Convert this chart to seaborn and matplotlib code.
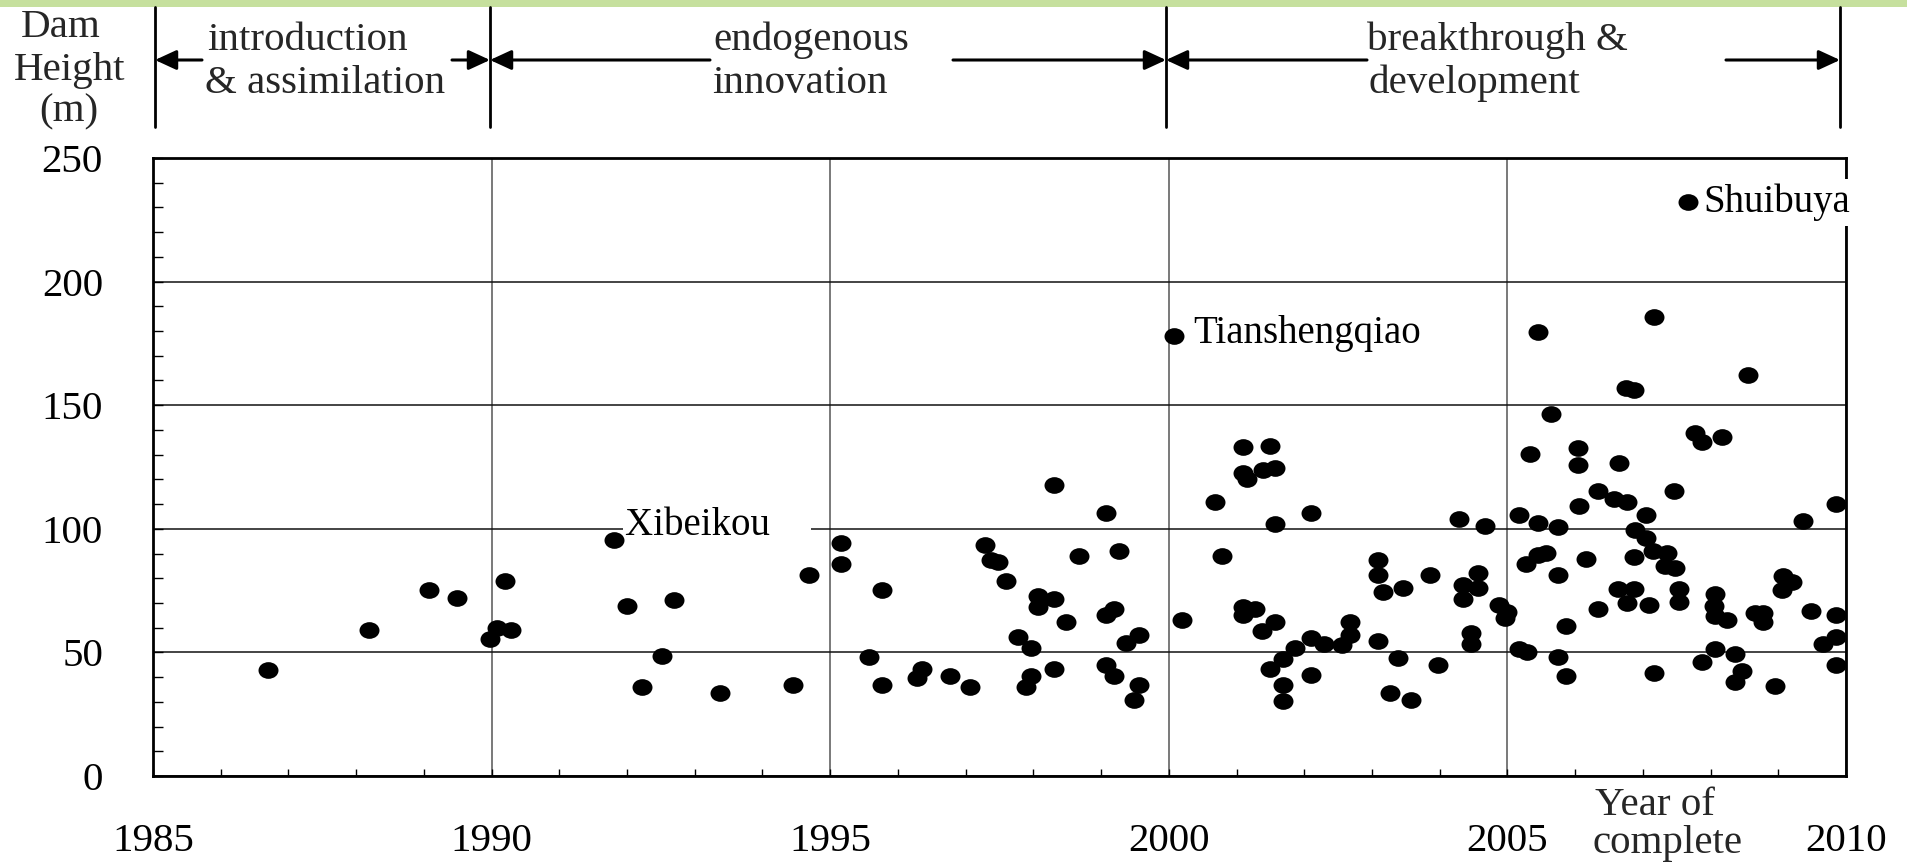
import numpy as np
import pandas as pd
import matplotlib
matplotlib.use("Agg")
import matplotlib.pyplot as plt
import seaborn as sns
from matplotlib.path import Path
from matplotlib.transforms import Affine2D
from matplotlib.patches import FancyArrowPatch, Rectangle
from matplotlib.lines import Line2D
from matplotlib.ticker import MultipleLocator

# ---------------- data ----------------
years = [
    1986.70, 1988.19, 1989.08, 1989.49, 1989.97, 1990.08, 1990.28, 1990.20,
    1991.81, 1992.00, 1992.70, 1992.52, 1992.22,
    1993.37, 1994.45, 1994.68, 1995.16, 1995.16, 1995.57, 1995.76, 1995.76,
    1996.28, 1996.35, 1996.77, 1997.06, 1997.29, 1997.37, 1997.48, 1997.59,
    1997.77, 1997.96, 1997.89, 1997.96, 1998.07, 1998.07, 1998.30, 1998.30,
    1998.30, 1998.48, 1998.67, 1999.07, 1999.27, 1999.07, 1999.19, 1999.07,
    1999.19, 1999.37, 1999.56, 1999.56, 1999.48, 2000.07,
    2000.20, 2000.68, 2000.79, 2001.09, 2001.09, 2001.15, 2001.39, 2001.50,
    2001.57, 2001.57, 2002.10, 2001.09, 2001.09, 2001.28, 2001.38, 2001.57,
    2001.50, 2001.68, 2001.86, 2001.68, 2001.68, 2002.10, 2002.10, 2002.29,
    2002.56, 2002.68, 2002.68, 2003.09, 2003.09, 2003.16, 2003.09, 2003.46,
    2003.39, 2003.27, 2003.57, 2003.97, 2003.86, 2004.28, 2004.67, 2004.35,
    2004.35, 2004.56, 2004.56, 2004.46, 2004.46, 2004.87, 2004.99, 2004.97,
    2007.66, 2005.45, 2007.17, 2006.75, 2006.87, 2008.55, 2005.64, 2005.34,
    2006.04, 2006.04, 2006.65, 2007.77, 2007.88, 2008.17, 2006.34, 2006.58,
    2006.76, 2007.46, 2006.05, 2005.17, 2005.45, 2005.75, 2007.05, 2006.88,
    2007.05, 2007.15, 2007.35, 2007.33, 2007.47, 2009.85, 2009.36, 2005.45,
    2005.57, 2005.27, 2005.75, 2006.16, 2006.87, 2006.64, 2006.87, 2006.76,
    2007.09, 2006.34, 2007.53, 2007.53, 2008.06, 2008.05, 2008.06, 2008.25,
    2008.66, 2008.78, 2008.78, 2009.07, 2009.20, 2009.06, 2009.48, 2009.85,
    2009.85, 2009.66, 2009.85, 2005.17, 2005.29, 2005.75, 2005.87, 2005.87,
    2007.17, 2007.88, 2008.06, 2008.36, 2008.47, 2008.36, 2008.95,
]
heights = [
    42.7, 59.1, 75.3, 72.0, 55.6, 60.0, 59.1, 78.8,
    95.3, 68.7, 71.1, 48.7, 35.9,
    33.6, 36.9, 81.2, 94.4, 85.6, 48.3, 75.2, 36.9,
    39.6, 43.2, 40.5, 36.2, 93.6, 87.5, 86.6, 78.8,
    56.1, 51.7, 36.2, 40.5, 72.9, 68.5, 71.8, 117.9,
    43.2, 62.1, 89.0, 106.4, 90.9, 65.1, 67.5, 45.0,
    40.5, 53.7, 57.0, 36.9, 30.9, 177.9,
    63.1, 111.0, 89.0, 132.9, 122.4, 120.1, 123.9, 133.3,
    124.6, 102.0, 106.4, 68.5, 65.1, 67.4, 58.7, 62.1,
    43.4, 47.4, 51.9, 36.9, 30.2, 40.7, 56.0, 53.3,
    52.8, 57.0, 62.4, 87.5, 81.5, 74.5, 54.6, 76.2,
    47.7, 33.6, 30.9, 45.0, 81.5, 104.0, 101.3, 77.2,
    71.8, 82.1, 76.2, 57.7, 53.4, 69.1, 66.4, 63.8,
    232.0, 179.5, 185.6, 156.9, 156.1, 162.2, 146.4, 130.2,
    132.6, 125.8, 126.5, 138.8, 135.1, 137.2, 115.2, 112.0,
    110.8, 115.2, 109.2, 105.7, 102.3, 100.6, 105.7, 99.5,
    96.3, 91.1, 90.3, 85.0, 84.2, 110.0, 103.2, 89.5,
    90.3, 85.8, 81.4, 87.7, 88.5, 75.6, 75.6, 70.1,
    69.3, 67.7, 75.8, 70.4, 73.7, 68.8, 64.8, 63.2,
    65.9, 65.9, 62.4, 80.9, 78.5, 75.3, 66.7, 65.1,
    56.2, 53.2, 45.1, 51.5, 50.2, 48.3, 60.7, 40.5,
    41.8, 46.2, 51.4, 49.4, 42.6, 38.1, 36.5,
]
x_ticks = [1985, 1990, 1995, 2000, 2005, 2010]
y_ticks = [0, 50, 100, 150, 200, 250]
dam_names = ["Xibeikou", "Tianshengqiao", "Shuibuya"]
name_x = [1991.97, 2000.36, 2007.90]
name_y = [97.5, 175.2, 228.2]
stages = ["introduction\n& assimilation", "endogenous\ninnovation", "breakthrough &\ndevelopment"]

# ---------------- style ----------------
sns.set_theme(style="white")
plt.rcParams["font.family"] = ["Liberation Serif", "DejaVu Serif"]
plt.rcParams["axes.edgecolor"] = "black"

W, H = 1908, 866
fig = plt.figure(figsize=(W / 100, H / 100), dpi=100)
fig.patch.set_facecolor("white")


def fx(p):
    return p / W


def fy(p):
    return 1 - p / H


ax = fig.add_axes([fx(153), fy(776), (1846 - 153) / W, (776 - 158) / H])
ax.set_facecolor("white")

ellipse = Path.unit_circle().transformed(Affine2D().scale(1.0, 0.835))
df = pd.DataFrame({"year": years, "height": heights})
sns.scatterplot(data=df, x="year", y="height", ax=ax, marker=ellipse, s=207,
                color="black", linewidth=0, zorder=3, legend=False)

ax.set_xlim(x_ticks[0], x_ticks[-1])
ax.set_ylim(y_ticks[0], y_ticks[-1])
ax.set_xticks(x_ticks)
ax.set_yticks(y_ticks)
ax.set_xticklabels([str(v) for v in x_ticks])
ax.set_yticklabels([str(v) for v in y_ticks])
ax.xaxis.set_minor_locator(MultipleLocator(1))
ax.yaxis.set_minor_locator(MultipleLocator(10))
ax.set_xlabel("")
ax.set_ylabel("")

ax.tick_params(axis="x", which="both", direction="in", bottom=True, top=False,
               length=5, width=1, color="black", labelsize=29.5, pad=34,
               labelcolor="black")
ax.tick_params(axis="y", which="both", direction="in", left=True, right=False,
               length=7, width=1, color="black", labelsize=29.5, pad=36,
               labelcolor="black")

ax.set_axisbelow(True)
ax.yaxis.grid(True, which="major", color="#111111", linewidth=1.1)
ax.xaxis.grid(True, which="major", color="#555555", linewidth=1.1)

for sp in ax.spines.values():
    sp.set_visible(True)
    sp.set_color("black")
    sp.set_linewidth(2.0)

# dam name labels
for name, xv, yv in zip(dam_names, name_x, name_y):
    kw = {}
    if name == "Xibeikou":
        name = name + "\u2003"
        kw["bbox"] = dict(boxstyle="square,pad=0.05", fc="white", ec="none")
    if name == "Shuibuya":
        kw["bbox"] = dict(boxstyle="square,pad=0.12", fc="white", ec="none")
    ax.text(xv, yv, name, fontsize=28, ha="left", va="baseline",
            color="black", zorder=2.8, clip_on=False, **kw)

# axis caption at lower right
fig.text(fx(1595), fy(815), "Year of", fontsize=29.5, ha="left", va="baseline")
fig.text(fx(1593), fy(853), "complete", fontsize=29.5, ha="left", va="baseline")

# ---------------- header ----------------
fig.add_artist(Rectangle((0, fy(7)), 1, 7 / H, transform=fig.transFigure,
                         facecolor="#c6e09e", edgecolor="none"))

fig.text(fx(61), fy(37), "Dam", fontsize=29.5, ha="center", va="baseline")
fig.text(fx(70), fy(80), "Height", fontsize=29.5, ha="center", va="baseline")
fig.text(fx(69), fy(121), "(m)", fontsize=29.5, ha="center", va="baseline")

for xb in [155, 490, 1166, 1840]:
    fig.add_artist(Line2D([fx(xb), fx(xb)], [fy(7), fy(127)],
                          transform=fig.transFigure, color="black", lw=2.0))

arrow_y = fy(60)
arrow_segments = [(202, 155), (452, 490), (710, 490), (953, 1166),
                  (1367, 1166), (1726, 1840)]
for a, b in arrow_segments:
    fig.add_artist(FancyArrowPatch((fx(a), arrow_y), (fx(b), arrow_y),
                                   transform=fig.transFigure,
                                   arrowstyle="-|>,head_length=0.65,head_width=0.3",
                                   mutation_scale=20, lw=2.2, color="black",
                                   shrinkA=0, shrinkB=0))

stage_left = [[207, 205], [713, 712], [1367, 1369]]
for text, lefts in zip(stages, stage_left):
    l1, l2 = text.split("\n")
    fig.text(fx(lefts[0]), fy(50), l1, fontsize=29.5, ha="left", va="baseline")
    fig.text(fx(lefts[1]), fy(93), l2, fontsize=29.5, ha="left", va="baseline")

fig.savefig("out.png", dpi=100, facecolor="white")
